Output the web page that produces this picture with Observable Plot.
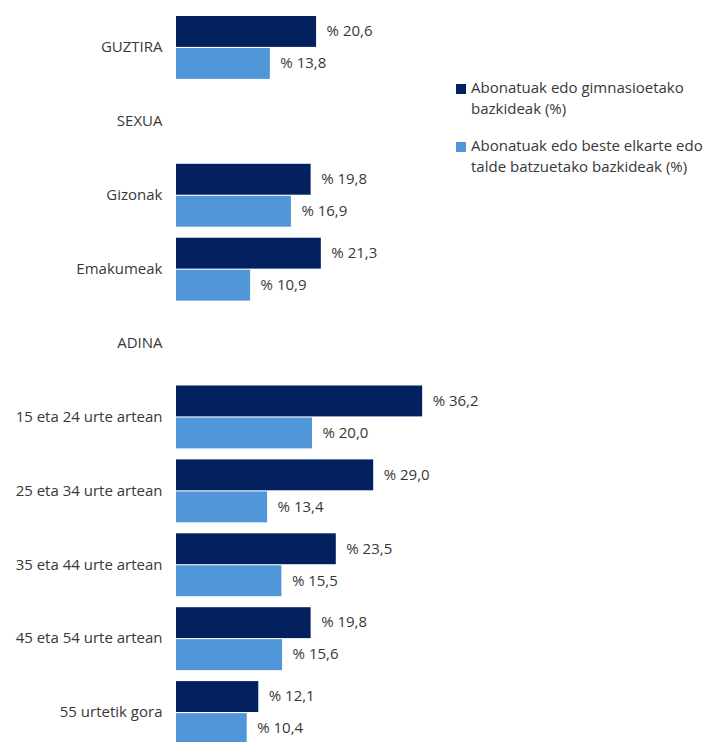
<!DOCTYPE html>
<html>
<head>
<meta charset="utf-8">
<script src="https://cdn.jsdelivr.net/npm/d3@7"></script>
<script src="https://cdn.jsdelivr.net/npm/@observablehq/plot@0.6"></script>
<style>
  html, body { margin: 0; padding: 0; background: #fff; }
  #wrap { position: relative; width: 706px; height: 742px; overflow: hidden; font-family: "Open Sans", sans-serif; }
  #legend { position: absolute; left: 456px; top: 77px; font-size: 15px; color: #383838; line-height: 21px; }
  .item { display: flex; align-items: flex-start; margin-bottom: 16px; }
  .sw { width: 10px; height: 10px; margin-top: 7px; margin-right: 5px; flex: none; }
</style>
</head>
<body>
<div id="wrap"><div id="legend"></div></div>
<script>
const categories = ["GUZTIRA", "SEXUA", "Gizonak", "Emakumeak", "ADINA",
  "15 eta 24 urte artean", "25 eta 34 urte artean", "35 eta 44 urte artean",
  "45 eta 54 urte artean", "55 urtetik gora"];
const gym = [20.6, null, 19.8, 21.3, null, 36.2, 29.0, 23.5, 19.8, 12.1];
const other = [13.8, null, 16.9, 10.9, null, 20.0, 13.4, 15.5, 15.6, 10.4];
const seriesNames = ["Abonatuak edo gimnasioetako bazkideak (%)",
  "Abonatuak edo beste elkarte edo talde batzuetako bazkideak (%)"];
const colors = ["#03215F", "#5096D9"];

const d0 = categories.map((c, i) => ({cat: c, v: gym[i]})).filter(d => d.v != null);
const d1 = categories.map((c, i) => ({cat: c, v: other[i]})).filter(d => d.v != null);
const fmt = v => "% " + v.toFixed(1).replace(".", ",");

const chart = Plot.plot({
  width: 706,
  height: 742,
  marginLeft: 176,
  marginTop: 0,
  marginBottom: 0,
  marginRight: 0,
  style: {fontFamily: "'Open Sans', sans-serif", fontSize: "15px", color: "#383838", background: "white"},
  x: {domain: [0, 50], range: [176, 516], axis: null},
  y: {domain: categories, range: [10, 749], paddingInner: 0, paddingOuter: 0, round: false, label: null},
  marks: [
    Plot.barX(d0, {x: "v", y: "cat", fill: colors[0], insetTop: 6, insetBottom: 37}),
    Plot.barX(d1, {x: "v", y: "cat", fill: colors[1], insetTop: 38, insetBottom: 5}),
    Plot.text(d0, {x: "v", y: "cat", text: d => fmt(d.v), dx: 10, dy: -16, textAnchor: "start", fill: "#383838", fontSize: 15}),
    Plot.text(d1, {x: "v", y: "cat", text: d => fmt(d.v), dx: 10, dy: 16, textAnchor: "start", fill: "#383838", fontSize: 15}),
    Plot.ruleX([0], {stroke: "#d9d9d9", strokeWidth: 2, y1: categories[0], y2: categories[categories.length - 1], insetTop: -35, insetBottom: -40}),
    Plot.axisY({tickSize: 0, tickPadding: 14, fontSize: 15, fill: "#383838"})
  ]
});
const wrap = document.getElementById("wrap");
wrap.insertBefore(chart, wrap.firstChild);

const legend = document.getElementById("legend");
seriesNames.forEach((n, i) => {
  const it = document.createElement("div");
  it.className = "item";
  const sw = document.createElement("div");
  sw.className = "sw";
  sw.style.background = colors[i];
  const t = document.createElement("div");
  t.style.width = "235px";
  t.textContent = n;
  it.appendChild(sw); it.appendChild(t);
  legend.appendChild(it);
});
</script>
</body>
</html>
